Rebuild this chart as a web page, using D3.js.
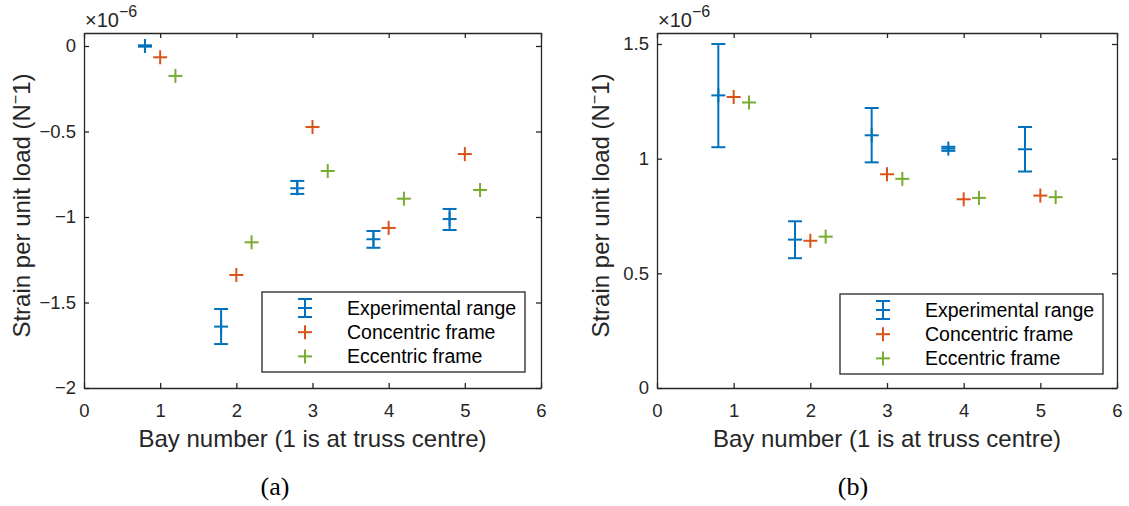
<!DOCTYPE html>
<html>
<head>
<meta charset="utf-8">
<script src="https://cdn.jsdelivr.net/npm/d3@7"></script>
<style>
  html, body { margin: 0; padding: 0; background: #fff; }
  svg { display: block; }
  text { font-family: "Liberation Sans", Arial, Helvetica, sans-serif; }
</style>
</head>
<body>
<svg id="fig" width="1129" height="506"></svg>
<script>
// ---- shared ----
const seriesNames = ["Experimental range", "Concentric frame", "Eccentric frame"];
const seriesColors = ["#0072BD", "#D95319", "#77AC30"];
const xTicks = [0, 1, 2, 3, 4, 5, 6];
const xDomain = [0, 6];
const expX = [0.8, 1.8, 2.8, 3.8, 4.8];
const concX = [1, 2, 3, 4, 5];
const eccX = [1.2, 2.2, 3.2, 4.2, 5.2];
const xLabel = "Bay number (1 is at truss centre)";

// ---- panel (a) ----
const aYDomain = [-2, 0.076];
const aYTicks = [-2, -1.5, -1, -0.5, 0];
const aYTickLabels = ["\u22122", "\u22121.5", "\u22121", "\u22120.5", "0"];
const aExpMean = [0, -1.641, -0.832, -1.130, -1.012];
const aExpLow = [-0.004, -1.743, -0.865, -1.180, -1.076];
const aExpHigh = [0.004, -1.538, -0.789, -1.082, -0.953];
const aConcentric = [-0.066, -1.339, -0.474, -1.064, -0.632];
const aEccentric = [-0.175, -1.148, -0.731, -0.893, -0.842];

// ---- panel (b) ----
const bYDomain = [0, 1.548];
const bYTicks = [0, 0.5, 1, 1.5];
const bYTickLabels = ["0", "0.5", "1", "1.5"];
const bExpMean = [1.276, 0.647, 1.102, 1.044, 1.041];
const bExpLow = [1.050, 0.566, 0.984, 1.034, 0.944];
const bExpHigh = [1.500, 0.727, 1.221, 1.052, 1.138];
const bConcentric = [1.269, 0.642, 0.932, 0.823, 0.839];
const bEccentric = [1.245, 0.660, 0.912, 0.829, 0.832];

const svg = d3.select("#fig");
const AXIS_COLOR = "#262626";
const MARK = 7;      // half-size of + markers and error-bar caps
const LW = 2;

function plus(g, x, y, color) {
  g.append("line").attr("x1", x - MARK).attr("x2", x + MARK).attr("y1", y).attr("y2", y)
    .attr("stroke", color).attr("stroke-width", LW);
  g.append("line").attr("x1", x).attr("x2", x).attr("y1", y - MARK).attr("y2", y + MARK)
    .attr("stroke", color).attr("stroke-width", LW);
}

function errorBar(g, x, yLo, yHi, yMid, color) {
  g.append("line").attr("x1", x).attr("x2", x).attr("y1", yLo).attr("y2", yHi)
    .attr("stroke", color).attr("stroke-width", LW);
  [yLo, yHi].forEach(yy => g.append("line")
    .attr("x1", x - MARK).attr("x2", x + MARK).attr("y1", yy).attr("y2", yy)
    .attr("stroke", color).attr("stroke-width", LW));
  plus(g, x, yMid, color);
}

function panel(cfg) {
  const { left, right, top, bottom } = cfg.box;
  const x = d3.scaleLinear().domain(xDomain).range([left, right]);
  const y = d3.scaleLinear().domain(cfg.yDomain).range([bottom, top]);
  const g = svg.append("g");

  // axes with inward ticks on all four sides
  const styleAxis = sel => {
    sel.selectAll("path.domain").attr("stroke", AXIS_COLOR).attr("stroke-width", 1.3);
    sel.selectAll(".tick line").attr("stroke", AXIS_COLOR).attr("stroke-width", 1.3);
    sel.selectAll(".tick text").attr("fill", AXIS_COLOR).style("font-size", "18.5px");
  };
  g.append("g").attr("transform", `translate(0,${bottom})`)
    .call(d3.axisBottom(x).tickValues(xTicks).tickFormat(d3.format("d"))
      .tickSize(-5).tickSizeOuter(0).tickPadding(15.5))
    .call(styleAxis);
  g.append("g").attr("transform", `translate(0,${top})`)
    .call(d3.axisTop(x).tickValues(xTicks).tickFormat("").tickSize(-5).tickSizeOuter(0))
    .call(styleAxis);
  g.append("g").attr("transform", `translate(${left},0)`)
    .call(d3.axisLeft(y).tickValues(cfg.yTicks).tickFormat((d, i) => cfg.yTickLabels[i])
      .tickSize(-5).tickSizeOuter(0).tickPadding(8))
    .call(styleAxis);
  g.append("g").attr("transform", `translate(${right},0)`)
    .call(d3.axisRight(y).tickValues(cfg.yTicks).tickFormat("").tickSize(-5).tickSizeOuter(0))
    .call(styleAxis);
  g.selectAll("g").attr("font-family", null);

  // exponent note
  const ex = g.append("text").attr("x", left + 1).attr("y", 27)
    .attr("fill", AXIS_COLOR).style("font-size", "20px");
  ex.append("tspan").text("\u00D710");
  ex.append("tspan").attr("dy", -10).style("font-size", "16px").text("\u22126");

  // axis labels
  g.append("text").attr("x", (left + right) / 2).attr("y", 447)
    .attr("text-anchor", "middle").attr("fill", AXIS_COLOR).style("font-size", "24px")
    .text(xLabel);
  const yl = g.append("text")
    .attr("transform", `translate(${cfg.yLabelX},${(top + bottom) / 2 - 5}) rotate(-90)`)
    .attr("text-anchor", "middle").attr("fill", AXIS_COLOR).style("font-size", "24px");
  yl.append("tspan").text("Strain per unit load (N");
  yl.append("tspan").attr("dy", -9).style("font-size", "16px").text("\u2212");
  yl.append("tspan").attr("dy", 9).text("1)");

  // data marks
  const marks = g.append("g");
  expX.forEach((xv, i) => errorBar(marks, x(xv), y(cfg.expLow[i]), y(cfg.expHigh[i]),
    y(cfg.expMean[i]), seriesColors[0]));
  concX.forEach((xv, i) => plus(marks, x(xv), y(cfg.conc[i]), seriesColors[1]));
  eccX.forEach((xv, i) => plus(marks, x(xv), y(cfg.ecc[i]), seriesColors[2]));

  // legend
  const lw = 263, lh = 80;
  const lx = right - cfg.legendInset - lw, ly = bottom - cfg.legendInset - lh;
  const lg = g.append("g");
  lg.append("rect").attr("x", lx).attr("y", ly).attr("width", lw).attr("height", lh)
    .attr("fill", "#fff").attr("stroke", AXIS_COLOR).attr("stroke-width", 1.3);
  seriesNames.forEach((name, i) => {
    const cy = ly + 16 + i * 24.2, cx = lx + 43;
    if (i === 0) errorBar(lg, cx, cy + 9, cy - 9, cy, seriesColors[i]);
    else plus(lg, cx, cy, seriesColors[i]);
    lg.append("text").attr("x", lx + 85).attr("y", cy).attr("dy", "0.35em")
      .attr("fill", "#000").style("font-size", "19.5px").text(name);
  });

  // caption
  g.append("text").attr("x", cfg.captionX).attr("y", 495).attr("text-anchor", "middle")
    .style("font-family", "'Liberation Serif', 'DejaVu Serif', serif")
    .style("font-size", "26px").attr("fill", "#000").text(cfg.caption);
}

panel({
  box: { left: 84, right: 541, top: 33, bottom: 388 },
  yDomain: aYDomain, yTicks: aYTicks, yTickLabels: aYTickLabels,
  expMean: aExpMean, expLow: aExpLow, expHigh: aExpHigh,
  conc: aConcentric, ecc: aEccentric,
  yLabelX: 30, legendInset: 16, caption: "(a)", captionX: 275
});
panel({
  box: { left: 657, right: 1117, top: 33, bottom: 388 },
  yDomain: bYDomain, yTicks: bYTicks, yTickLabels: bYTickLabels,
  expMean: bExpMean, expLow: bExpLow, expHigh: bExpHigh,
  conc: bConcentric, ecc: bEccentric,
  yLabelX: 609, legendInset: 14, caption: "(b)", captionX: 853
});
</script>
</body>
</html>
